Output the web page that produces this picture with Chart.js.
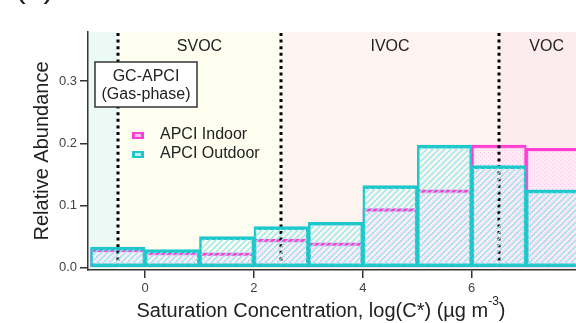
<!DOCTYPE html>
<html>
<head>
<meta charset="utf-8">
<script src="https://cdn.jsdelivr.net/npm/chart.js@4.4.0/dist/chart.umd.min.js"></script>
<style>
  html, body { margin: 0; padding: 0; background: #fff; }
</style>
</head>
<body>
<canvas id="myChart" width="576" height="323"></canvas>
<script>
// bins of log(C*), one unit wide, centred on these values
const binCenters = [-0.5, 0.5, 1.5, 2.5, 3.5, 4.5, 5.5, 6.5, 7.5];
const indoor  = [0.030, 0.025, 0.024, 0.046, 0.040, 0.095, 0.125, 0.197, 0.192];
const outdoor = [0.033, 0.029, 0.050, 0.066, 0.073, 0.132, 0.197, 0.164, 0.125];

const xTicks = [0, 2, 4, 6];
const yTicks = [0, 0.1, 0.2, 0.3];

// volatility classes
const regionEdges  = [-1.2, -0.5, 2.5, 6.5, 8.25];
const regionNames  = ['', 'SVOC', 'IVOC', 'VOC'];
const regionColors = ['#ecfaf6', '#fdfdf0', '#fdf4ef', '#fdecee'];

const FONT = "'Liberation Sans', Arial, Helvetica, sans-serif";
const PINK = '#ff3fd2';
const CYAN = '#1ec8ca';

function hatchPattern() {
  const c = document.createElement('canvas');
  c.width = 6; c.height = 6;
  const g = c.getContext('2d');
  g.strokeStyle = '#8fe9ee';
  g.lineWidth = 1.3;
  g.beginPath();
  g.moveTo(-1, 7); g.lineTo(7, -1);
  g.moveTo(-1, 1); g.lineTo(1, -1);
  g.moveTo(5, 7); g.lineTo(7, 5);
  g.stroke();
  return g.createPattern(c, 'repeat');
}

function dotPattern() {
  const c = document.createElement('canvas');
  c.width = 4; c.height = 4;
  const g = c.getContext('2d');
  g.fillStyle = 'rgba(255,236,248,0.6)';
  g.fillRect(0, 0, 4, 4);
  g.fillStyle = '#ffc4ec';
  g.fillRect(0, 0, 1, 1);
  g.fillRect(2, 2, 1, 1);
  return g.createPattern(c, 'repeat');
}

const decor = {
  id: 'decor',
  beforeDraw(chart) {
    const {ctx, chartArea: a, scales: {x}} = chart;
    ctx.save();
    ctx.beginPath();
    ctx.rect(a.left, a.top, a.right - a.left, a.bottom - a.top);
    ctx.clip();
    for (let i = 0; i < regionNames.length; i++) {
      const x0 = x.getPixelForValue(regionEdges[i]);
      const x1 = x.getPixelForValue(regionEdges[i + 1]);
      ctx.fillStyle = regionColors[i];
      ctx.fillRect(x0, a.top, x1 - x0, a.bottom - a.top);
    }
    ctx.fillStyle = '#222';
    ctx.font = '16px ' + FONT;
    ctx.textAlign = 'center';
    ctx.textBaseline = 'middle';
    for (let i = 0; i < regionNames.length; i++) {
      const cx = x.getPixelForValue((regionEdges[i] + regionEdges[i + 1]) / 2);
      ctx.fillText(regionNames[i], cx, a.top + 15);
    }
    ctx.restore();
  },
  afterDatasetDraw(chart, args) {
    if (args.index !== 0) return;
    const {ctx, chartArea: a, scales: {x}} = chart;
    ctx.save();
    ctx.strokeStyle = '#000';
    ctx.lineWidth = 3;
    ctx.setLineDash([3, 3.6]);
    for (let i = 1; i < regionEdges.length - 1; i++) {
      const px = Math.round(x.getPixelForValue(regionEdges[i]));
      ctx.beginPath();
      ctx.moveTo(px, a.top + 1);
      ctx.lineTo(px, a.bottom - 3);
      ctx.stroke();
    }
    ctx.restore();
  },
  afterDraw(chart) {
    const {ctx, chartArea: a} = chart;
    ctx.save();
    // GC-APCI box
    ctx.fillStyle = '#fff';
    ctx.fillRect(a.left + 7, a.top + 30, 102, 45);
    ctx.strokeStyle = '#333';
    ctx.lineWidth = 1.5;
    ctx.strokeRect(a.left + 7, a.top + 30, 102, 45);
    ctx.fillStyle = '#222';
    ctx.font = '16px ' + FONT;
    ctx.textAlign = 'center';
    ctx.textBaseline = 'middle';
    ctx.fillText('GC-APCI', a.left + 58, a.top + 45);
    ctx.fillText('(Gas-phase)', a.left + 58, a.top + 63);

    // legend
    const items = chart.data.datasets;
    const colors = [PINK, CYAN];
    ctx.textAlign = 'left';
    items.forEach((ds, i) => {
      const yc = a.top + 103 + i * 19;
      ctx.fillStyle = colors[i];
      ctx.fillRect(a.left + 44, yc - 3, 12, 7);
      ctx.fillStyle = 'rgba(255,255,255,0.7)';
      ctx.fillRect(a.left + 47, yc - 1, 6, 3);
      ctx.fillStyle = '#222';
      ctx.fillText(ds.label, a.left + 72, yc);
    });

    // x axis title with superscript
    const main = 'Saturation Concentration, log(C*) (\u00b5g m';
    ctx.font = '20px ' + FONT;
    const w1 = ctx.measureText(main).width;
    const w3 = ctx.measureText(')').width;
    ctx.font = '12px ' + FONT;
    const w2 = ctx.measureText('-3').width;
    let tx = 321 - (w1 + w2 + w3) / 2;
    const ty = 311;
    ctx.font = '20px ' + FONT;
    ctx.fillText(main, tx, ty);
    tx += w1;
    ctx.font = '12px ' + FONT;
    ctx.fillText('-3', tx, ty - 9);
    tx += w2;
    ctx.font = '20px ' + FONT;
    ctx.fillText(')', tx, ty);

    // clipped panel letter
    ctx.textBaseline = 'alphabetic';
    ctx.font = '32px ' + FONT;
    ctx.fillText('(b)', 15, -3);
    ctx.restore();
  }
};

const ctx = document.getElementById('myChart').getContext('2d');
const barStyle = {
  borderWidth: {top: 3, left: 2, right: 2, bottom: 3},
  borderSkipped: false,
  grouped: false,
  barPercentage: 1,
  categoryPercentage: 1
};

const myChart = new Chart(ctx, {
  type: 'bar',
  data: {
    datasets: [
      Object.assign({
        label: 'APCI Indoor',
        data: binCenters.map((c, i) => ({x: c, y: indoor[i]})),
        backgroundColor: dotPattern(),
        borderColor: PINK,
        order: 2
      }, barStyle),
      Object.assign({
        label: 'APCI Outdoor',
        data: binCenters.map((c, i) => ({x: c, y: outdoor[i]})),
        backgroundColor: hatchPattern(),
        borderColor: CYAN,
        order: 1
      }, barStyle)
    ]
  },
  options: {
    responsive: false,
    animation: false,
    layout: { padding: {top: 32, left: 0, right: 0, bottom: 0} },
    plugins: {
      legend: { display: false },
      tooltip: { enabled: false }
    },
    scales: {
      x: {
        type: 'linear',
        min: -1.047,
        max: 7.915,
        offset: false,
        grid: { offset: false, drawOnChartArea: false, drawTicks: true, tickLength: 8, color: '#333', lineWidth: 1.5 },
        border: { display: true, color: '#333', width: 1.5 },
        ticks: { color: '#444', font: {size: 13, family: FONT}, padding: 3, maxRotation: 0 },
        afterBuildTicks: s => { s.ticks = xTicks.map(v => ({value: v})); },
        afterFit: s => { s.height = 53; }
      },
      y: {
        min: -0.0037,
        max: 0.3789,
        grid: { drawOnChartArea: false, drawTicks: true, tickLength: 8, color: '#333', lineWidth: 1.5 },
        border: { display: true, color: '#333', width: 1.5 },
        ticks: { color: '#444', font: {size: 13, family: FONT}, padding: 3, callback: v => v.toFixed(1) },
        title: {
          display: true,
          text: 'Relative Abundance',
          color: '#222',
          font: {size: 20, family: FONT},
          padding: {top: 30, bottom: 0}
        },
        afterBuildTicks: s => { s.ticks = yTicks.map(v => ({value: v})); },
        afterFit: s => { s.width = 88; }
      }
    }
  },
  plugins: [decor]
});
</script>
</body>
</html>
